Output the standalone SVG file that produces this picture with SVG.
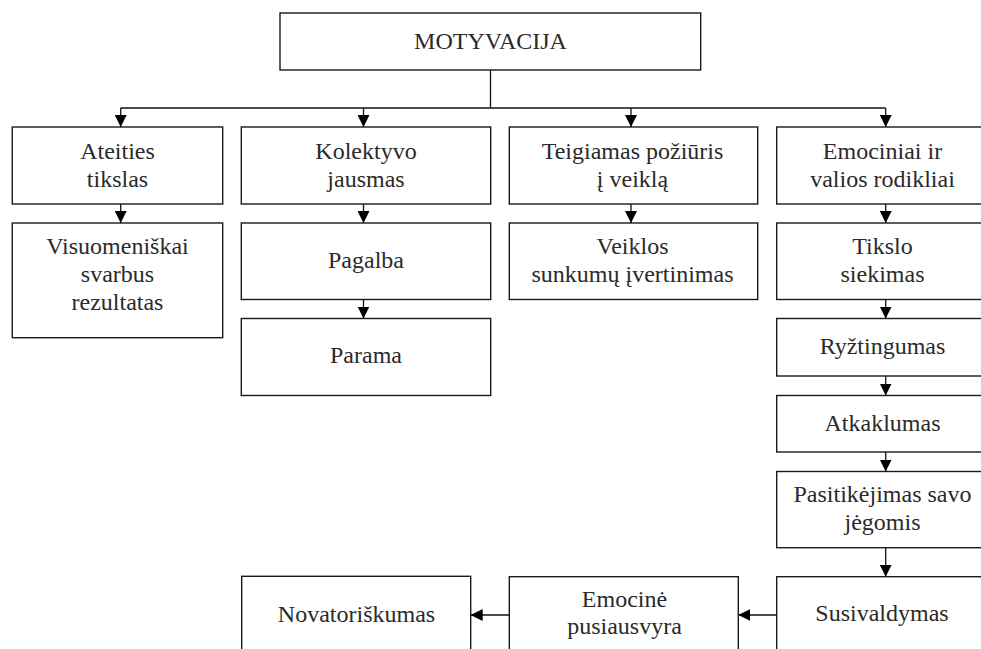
<svg xmlns="http://www.w3.org/2000/svg" width="981" height="649" viewBox="0 0 981 649">
<style>
  rect.box { fill: #ffffff; stroke: #1a1a1a; stroke-width: 1.4; }
  text { font-family: "Liberation Serif", "Times New Roman", serif; font-size: 24px; fill: #2a2a2a; text-anchor: middle; }
  .conn line, .conn path { stroke: #111111; stroke-width: 1.3; fill: none; }
</style>
<defs>
  <marker id="arrow" markerUnits="userSpaceOnUse" markerWidth="12" markerHeight="12" refX="12" refY="6" orient="auto" viewBox="0 0 12 12">
    <path d="M0,0 L12,6 L0,12 z" fill="#000000"/>
  </marker>
</defs>
<rect x="0" y="0" width="981" height="649" fill="#ffffff"/>

<g class="conn" id="connectors">
  <line x1="490.5" y1="70" x2="490.5" y2="108"/>
  <line x1="120.7" y1="108" x2="885.7" y2="108"/>
  <line x1="120.7" y1="108" x2="120.7" y2="127" marker-end="url(#arrow)"/>
  <line x1="363.5" y1="108" x2="363.5" y2="127" marker-end="url(#arrow)"/>
  <line x1="631" y1="108" x2="631" y2="127" marker-end="url(#arrow)"/>
  <line x1="885.7" y1="108" x2="885.7" y2="127" marker-end="url(#arrow)"/>
  <line x1="120.7" y1="204" x2="120.7" y2="223" marker-end="url(#arrow)"/>
  <line x1="363.5" y1="204" x2="363.5" y2="223" marker-end="url(#arrow)"/>
  <line x1="631" y1="204" x2="631" y2="223" marker-end="url(#arrow)"/>
  <line x1="885.7" y1="204" x2="885.7" y2="223" marker-end="url(#arrow)"/>
  <line x1="363.5" y1="299.5" x2="363.5" y2="318.5" marker-end="url(#arrow)"/>
  <line x1="885.7" y1="299.5" x2="885.7" y2="318.5" marker-end="url(#arrow)"/>
  <line x1="885.7" y1="376" x2="885.7" y2="395.5" marker-end="url(#arrow)"/>
  <line x1="885.7" y1="452" x2="885.7" y2="471.5" marker-end="url(#arrow)"/>
  <line x1="885.7" y1="547.7" x2="885.7" y2="576.7" marker-end="url(#arrow)"/>
  <line x1="776.7" y1="615" x2="738.3" y2="615" marker-end="url(#arrow)"/>
  <line x1="509.3" y1="615" x2="470.7" y2="615" marker-end="url(#arrow)"/>
</g>

<g id="motyvacija">
  <rect class="box" x="280" y="13" width="420.7" height="57"/>
  <text x="490.5" y="48.5">MOTYVACIJA</text>
</g>

<g id="ateities-tikslas">
  <rect class="box" x="12.3" y="127" width="210.4" height="77"/>
  <text x="117.5" y="159">Ateities</text>
  <text x="117.5" y="187">tikslas</text>
</g>
<g id="kolektyvo-jausmas">
  <rect class="box" x="241.3" y="127" width="249.4" height="77"/>
  <text x="366" y="159">Kolektyvo</text>
  <text x="366" y="187">jausmas</text>
</g>
<g id="teigiamas-poziuris">
  <rect class="box" x="509.3" y="127" width="248.4" height="77"/>
  <text x="632.5" y="159">Teigiamas požiūris</text>
  <text x="632.5" y="187">į veiklą</text>
</g>
<g id="emociniai-valios">
  <rect class="box" x="776.7" y="127" width="211.3" height="77"/>
  <text x="882.5" y="159">Emociniai ir</text>
  <text x="882.5" y="187">valios rodikliai</text>
</g>

<g id="visuomeniskai">
  <rect class="box" x="12.3" y="223" width="210.4" height="114.7"/>
  <text x="117.5" y="254">Visuomeniškai</text>
  <text x="117.5" y="282">svarbus</text>
  <text x="117.5" y="310">rezultatas</text>
</g>
<g id="pagalba">
  <rect class="box" x="241.3" y="223" width="249.4" height="76.5"/>
  <text x="366" y="268">Pagalba</text>
</g>
<g id="parama">
  <rect class="box" x="241.3" y="318.5" width="249.4" height="77"/>
  <text x="366" y="363">Parama</text>
</g>
<g id="veiklos-sunkumu">
  <rect class="box" x="509.3" y="223" width="248.4" height="76.5"/>
  <text x="632.5" y="254">Veiklos</text>
  <text x="632.5" y="282">sunkumų įvertinimas</text>
</g>
<g id="tikslo-siekimas">
  <rect class="box" x="776.7" y="223" width="211.3" height="76.5"/>
  <text x="882.5" y="254">Tikslo</text>
  <text x="882.5" y="282">siekimas</text>
</g>
<g id="ryztingumas">
  <rect class="box" x="776.7" y="318.5" width="211.3" height="57.5"/>
  <text x="882.5" y="354">Ryžtingumas</text>
</g>
<g id="atkaklumas">
  <rect class="box" x="776.7" y="395.5" width="211.3" height="56.5"/>
  <text x="882.5" y="430.5">Atkaklumas</text>
</g>
<g id="pasitikejimas">
  <rect class="box" x="776.7" y="471.5" width="211.3" height="76.2"/>
  <text x="882.5" y="502">Pasitikėjimas savo</text>
  <text x="882.5" y="530">jėgomis</text>
</g>
<g id="susivaldymas">
  <rect class="box" x="776.7" y="576.7" width="211.3" height="90"/>
  <text x="882" y="621">Susivaldymas</text>
</g>
<g id="emocine-pusiausvyra">
  <rect class="box" x="509.3" y="576.7" width="229" height="90"/>
  <text x="624.5" y="607">Emocinė</text>
  <text x="624.5" y="634">pusiausvyra</text>
</g>
<g id="novatoriskumas">
  <rect class="box" x="241.7" y="576.3" width="229" height="90"/>
  <text x="356.5" y="622">Novatoriškumas</text>
</g>
</svg>
